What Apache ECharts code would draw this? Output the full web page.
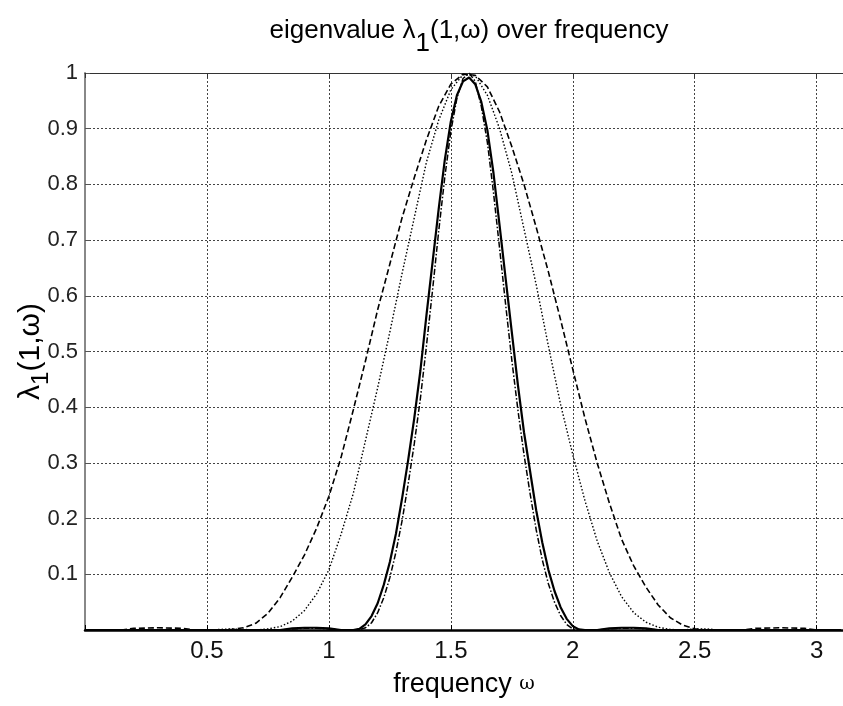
<!DOCTYPE html>
<html><head><meta charset="utf-8">
<script src="https://cdn.jsdelivr.net/npm/echarts@6/dist/echarts.min.js"></script>
<style>html,body{margin:0;padding:0;background:#fff}#c{width:843px;height:706px}</style>
</head><body><div id="c"></div>
<script>
// ---- data ----
const xTickLabels = [0.5, 1, 1.5, 2, 2.5, 3];
const yTickLabels = [0.1, 0.2, 0.3, 0.4, 0.5, 0.6, 0.7, 0.8, 0.9, 1];

// wide curves (dashed, dotted) share this frequency grid
const omegaWide = [0, 0.15, 0.2, 0.3, 0.4, 0.45, 0.5, 0.55, 0.6, 0.65, 0.7, 0.75, 0.8, 0.85, 0.9, 0.95,
  1.0, 1.05, 1.1, 1.15, 1.2, 1.25, 1.3, 1.35, 1.4, 1.45, 1.5, 1.55, 1.6, 1.65, 1.7, 1.75, 1.8, 1.85, 1.9, 1.95,
  2.0, 2.05, 2.1, 2.15, 2.2, 2.25, 2.3, 2.35, 2.4, 2.45, 2.5, 2.55, 2.6, 2.7, 2.75, 2.85, 2.95, 3.0, 3.1];
const dashedVals = [0, 0, 0.003, 0.004, 0.003, 0, 0, 0, 0.001, 0.004, 0.012, 0.03, 0.058, 0.095, 0.135, 0.183,
  0.24, 0.31, 0.395, 0.483, 0.575, 0.657, 0.74, 0.812, 0.88, 0.94, 0.98, 0.998, 0.996, 0.975, 0.93, 0.868, 0.8, 0.723, 0.643, 0.557,
  0.468, 0.38, 0.3, 0.228, 0.163, 0.115, 0.077, 0.045, 0.022, 0.009, 0.002, 0, 0, 0, 0.003, 0.004, 0.003, 0, 0];
const dottedVals = [0, 0, 0, 0, 0, 0, 0, 0.001, 0.002, 0.001, 0, 0.002, 0.006, 0.016, 0.035, 0.065,
  0.108, 0.172, 0.245, 0.34, 0.435, 0.535, 0.64, 0.74, 0.84, 0.915, 0.97, 0.997, 0.995, 0.96, 0.9, 0.82, 0.72, 0.62, 0.51, 0.405,
  0.315, 0.232, 0.16, 0.103, 0.06, 0.031, 0.014, 0.005, 0.001, 0, 0.002, 0.002, 0, 0, 0, 0, 0, 0, 0];

// narrow curves (solid, dash-dot) share this frequency grid
const omegaNarrow = [0, 0.8, 0.85, 0.9, 0.95, 1.0, 1.05,
  1.1, 1.125, 1.15, 1.175, 1.2, 1.225, 1.25, 1.275, 1.3, 1.325, 1.35, 1.375, 1.4, 1.425, 1.45, 1.475, 1.5, 1.525, 1.55, 1.575,
  1.6, 1.625, 1.65, 1.675, 1.7, 1.725, 1.75, 1.775, 1.8, 1.825, 1.85, 1.875, 1.9, 1.925, 1.95, 1.975, 2.0, 2.025, 2.05,
  2.1, 2.15, 2.2, 2.25, 2.3, 2.35, 3.1];
const solidVals = [0, 0, 0.003, 0.004, 0.004, 0.003, 0,
  0, 0.002, 0.010, 0.025, 0.048, 0.081, 0.122, 0.173, 0.236, 0.305, 0.38, 0.465, 0.565, 0.66, 0.755, 0.843, 0.913, 0.96, 0.985, 0.992,
  0.98, 0.948, 0.897, 0.82, 0.726, 0.63, 0.535, 0.44, 0.355, 0.285, 0.215, 0.157, 0.108, 0.07, 0.041, 0.02, 0.007, 0.001, 0,
  0, 0.003, 0.004, 0.004, 0.003, 0, 0];
const dashDotVals = [0, 0, 0.002, 0.003, 0.003, 0.002, 0,
  0, 0.0005, 0.004, 0.013, 0.031, 0.058, 0.094, 0.14, 0.196, 0.262, 0.334, 0.415, 0.51, 0.61, 0.715, 0.812, 0.895, 0.955, 0.99, 1.0,
  0.985, 0.94, 0.875, 0.785, 0.685, 0.583, 0.485, 0.395, 0.315, 0.245, 0.18, 0.126, 0.083, 0.05, 0.026, 0.01, 0.002, 0, 0,
  0, 0.002, 0.003, 0.003, 0.002, 0, 0];

const xMin = 0, xMax = 3.108;
// ---------------------------------------

const FF = '"Liberation Sans",Arial,sans-serif';
const pair = (xs, ys) => xs.map((x, i) => [x, ys[i]]);
const fmtX = v => { const r = Math.round(v * 100) / 100; return xTickLabels.includes(r) ? String(r) : ''; };
const fmtY = v => { const r = Math.round(v * 100) / 100; return yTickLabels.includes(r) ? String(r) : ''; };
const gridLine = { show: true, lineStyle: { color: '#444', width: 1, type: [2, 2] } };

const chart = echarts.init(document.getElementById('c'), null, { renderer: 'canvas' });
chart.setOption({
  backgroundColor: '#fff',
  animation: false,
  title: {
    text: '{t|eigenvalue λ}{s|1}{t|(1,ω) over frequency}',
    left: 464, top: 0, textAlign: 'center',
    textStyle: {
      fontWeight: 'normal',
      rich: {
        t: { fontFamily: FF, fontSize: 26, fontWeight: 'normal', color: '#000' },
        s: { fontFamily: FF, fontSize: 26, fontWeight: 'normal', color: '#000', padding: [26, 0, 0, 0] }
      }
    }
  },
  grid: { left: 85, right: 0, top: 73, bottom: 76, outerBoundsMode: 'none', containLabel: false },
  xAxis: [{
    type: 'value', min: xMin, max: xMax, interval: 0.5, position: 'bottom',
    name: '{t|frequency }{w|ω}', nameLocation: 'middle', nameGap: 41, nameMoveOverlap: false,
    nameTextStyle: { rich: { t: { fontFamily: FF, fontSize: 27, color: '#000' }, w: { fontFamily: 'DejaVu Serif', fontSize: 19, color: '#000' } } },
    axisLine: { lineStyle: { color: '#000', width: 2.5 } },
    axisTick: { inside: true, length: 5, lineStyle: { color: '#000' } },
    axisLabel: { formatter: fmtX, fontFamily: FF, fontSize: 24, color: '#111', margin: 9, showMaxLabel: false },
    splitLine: gridLine
  }, {
    type: 'value', min: xMin, max: xMax, interval: 0.5, position: 'top',
    axisLine: { show: true, lineStyle: { color: '#333', width: 1 } },
    axisTick: { show: true, inside: true, length: 5, lineStyle: { color: '#333' } },
    axisLabel: { show: false }, splitLine: { show: false }
  }],
  yAxis: {
    type: 'value', min: 0, max: 1, interval: 0.1,
    name: '{t|λ}{s|1}{t|(1,ω)}', nameLocation: 'middle', nameGap: 32, nameRotate: 90, nameMoveOverlap: false,
    nameTextStyle: { rich: {
      t: { fontFamily: FF, fontSize: 30, color: '#000' },
      s: { fontFamily: FF, fontSize: 24, color: '#000', padding: [20, 0, 0, 0] } } },
    axisLine: { show: true, lineStyle: { color: '#888', width: 2 } },
    axisTick: { show: true, inside: true, length: 5, lineStyle: { color: '#555' } },
    axisLabel: { formatter: fmtY, fontFamily: FF, fontSize: 22, color: '#222', margin: 7 },
    splitLine: gridLine
  },
  series: [
    { name: 'dashed', type: 'line', data: pair(omegaWide, dashedVals), showSymbol: false, smooth: false,
      lineStyle: { color: '#000', width: 1.6, type: [6, 3] } },
    { name: 'dotted', type: 'line', data: pair(omegaWide, dottedVals), showSymbol: false, smooth: false,
      lineStyle: { color: '#000', width: 1.4, type: [1.5, 2] } },
    { name: 'dashdot', type: 'line', data: pair(omegaNarrow, dashDotVals), showSymbol: false, smooth: false,
      lineStyle: { color: '#000', width: 1.5, type: [6, 2, 1.5, 2] } },
    { name: 'solid', type: 'line', data: pair(omegaNarrow, solidVals), showSymbol: false, smooth: false,
      lineStyle: { color: '#000', width: 2.2, type: 'solid' } }
  ]
});
</script>
</body></html>
